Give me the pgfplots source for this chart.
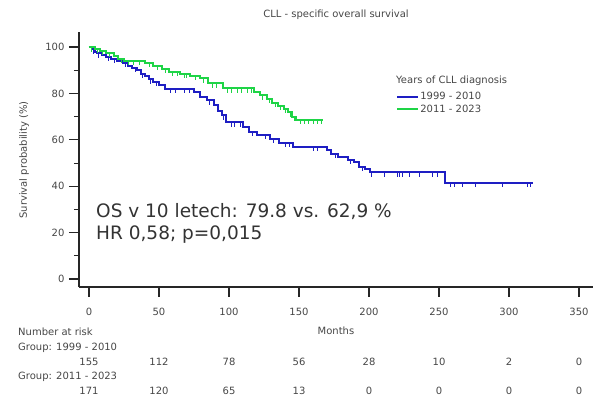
\documentclass[border=0pt]{standalone}
\usepackage{pgfplots}
\pgfplotsset{compat=1.18}
\usepackage{fontspec}
\setmainfont{DejaVu Sans}

\definecolor{kmblue}{RGB}{30,30,195}
\definecolor{kmgreen}{RGB}{30,212,70}
\definecolor{txt}{RGB}{70,70,70}

% censoring tick hanging below the curve
\pgfdeclareplotmark{cens}{%
  \pgfpathmoveto{\pgfqpoint{0pt}{0.5pt}}%
  \pgfpathlineto{\pgfqpoint{0pt}{-\pgfplotmarksize}}%
  \pgfusepathqstroke}

% Kaplan-Meier steps: month, survival (%)
\pgfplotstableread{
t s
0 100
2 99
4 98
6 97.4
9 96.5
12 95.8
16 95
20 94
24 93.3
28 92
31 91
34 90
37 88.5
40 87.5
43 86.2
46 85
50 83.5
54 82
75 80.7
79 78.5
84 77
89 75
92 72.5
95 70.5
98 67.5
110 65.5
114 63.4
120 62.2
129 60.5
136 58.8
146 57
170 55.5
173 54
178 52.8
185 51.5
189 50.3
193 48.5
197 47.3
201 46
254 41.4
317 41.4
}\earlytab

\pgfplotstableread{
t s
3 99
7 97.4
14 95.8
18 95
26 93.3
33 91
38 88.5
44 86.2
48 85
58 82
62 82
68 82
72 82
86 77
96 70.5
102 67.5
104 67.5
108 67.5
117 63.4
126 62.2
132 60.5
140 58.8
143 58.8
160 57
163 57
176 54
187 51.5
195 48.5
202 46
211 46
220 46
222 46
224 46
229 46
236 46
245 46
249 46
258 41.4
261 41.4
267 41.4
276 41.4
295 41.4
313 41.4
315 41.4
}\earlycens

\pgfplotstableread{
t s
0 100
4 99.3
8 98.5
12 97.5
18 96.3
21 95
25 94
40 93.2
46 92
52 90.6
57 89.4
65 88.5
72 87.6
79 86.6
85 84.5
96 82.3
118 80.5
122 79.3
127 77.8
131 76
135 74.8
139 73.5
142 71.8
145 70
148 68.6
167 68.6
}\latetab

\pgfplotstableread{
t s
2 100
6 99.3
10 98.5
15 97.5
23 95
28 94
32 94
36 94
43 93.2
49 92
55 90.6
60 89.4
63 89.4
68 88.5
70 88.5
76 87.6
82 86.6
88 84.5
91 84.5
99 82.3
102 82.3
106 82.3
109 82.3
113 82.3
116 82.3
124 79.3
129 77.8
133 76
137 74.8
140 73.5
144 71.8
147 70
151 68.6
154 68.6
157 68.6
160 68.6
163 68.6
166 68.6
}\latecens

\begin{document}
\begin{tikzpicture}[x=1pt,y=1pt,font=\fontsize{10}{12}\selectfont]
\useasboundingbox (0,0) rectangle (594,398);
\begin{axis}[
  at={(79pt,111pt)}, anchor=south west,
  scale only axis, width=514pt, height=255pt,
  xmin=-7.14, xmax=360, ymin=-3.45, ymax=106.5,
  axis x line=bottom, axis y line=left,
  axis line style={-, line width=1.3pt, black!85},
  xtick={0,50,...,350}, ytick={0,20,...,100},
  minor ytick={10,30,...,90},
  tick align=outside,
  major tick length=10pt, minor tick length=5pt,
  every tick/.style={black!85, line width=1.3pt},
  minor tick style={line width=0.8pt},
  tick label style={font=\fontsize{10}{12}\selectfont, text=txt},
  /pgf/number format/assume math mode=true,
  xticklabel style={yshift=-8pt},
  yticklabel style={xshift=-1pt},
  clip=false,
  legend style={at={(0.617,0.768)}, anchor=north west, draw=none, fill=none,
    font=\fontsize{10}{12}\selectfont, text=txt, inner sep=0pt,
    row sep=1.5pt, nodes={inner sep=1pt}},
  legend cell align=left,
  legend image code/.code={%
    \draw[#1] (0pt,0pt) -- (21pt,0pt);},
]
\addplot[kmblue, line width=2pt, const plot, forget plot] table[x=t, y=s] {\earlytab};
\addplot[kmgreen, line width=2pt, const plot, forget plot] table[x=t, y=s] {\latetab};
\addplot[kmblue, only marks, mark=cens, mark size=4.5pt, line width=1pt, forget plot] table[x=t, y=s] {\earlycens};
\addplot[kmgreen, only marks, mark=cens, mark size=4.5pt, line width=1pt, forget plot] table[x=t, y=s] {\latecens};
\addlegendimage{kmblue, line width=2pt}
\addlegendentry{1999 - 2010}
\addlegendimage{kmgreen, line width=2pt}
\addlegendentry{2011 - 2023}
\end{axis}

% titles and annotations
\node[text=txt] at (336,383) {CLL - specific overall survival};
\node[text=txt, rotate=90] at (24,238) {Survival probability (\%)};
\node[text=txt, anchor=west, inner sep=0pt] at (396,317) {Years of CLL diagnosis};
\node[text=black!80, anchor=west, inner sep=0pt, font=\fontsize{18.5}{22}\selectfont] at (96,186) {OS v 10 letech: 79.8 vs. 62,9 \%};
\node[text=black!80, anchor=west, inner sep=0pt, font=\fontsize{18.5}{22}\selectfont] at (96,163) {HR 0,58; p=0,015};
\node[text=txt] at (336,67) {Months};

% number at risk table
\node[text=txt, anchor=west, inner sep=0pt] at (18,66) {Number at risk};
\node[text=txt, anchor=west, inner sep=0pt] at (18,50) {Group: 1999 - 2010};
\node[text=txt, anchor=west, inner sep=0pt] at (18,21) {Group: 2011 - 2023};
\foreach \n [count=\i from 0] in {155,112,78,56,28,10,2,0}
  \node[text=txt] at (89+70*\i,36) {\n};
\foreach \n [count=\i from 0] in {171,120,65,13,0,0,0,0}
  \node[text=txt] at (89+70*\i,7) {\n};
\end{tikzpicture}
\end{document}
